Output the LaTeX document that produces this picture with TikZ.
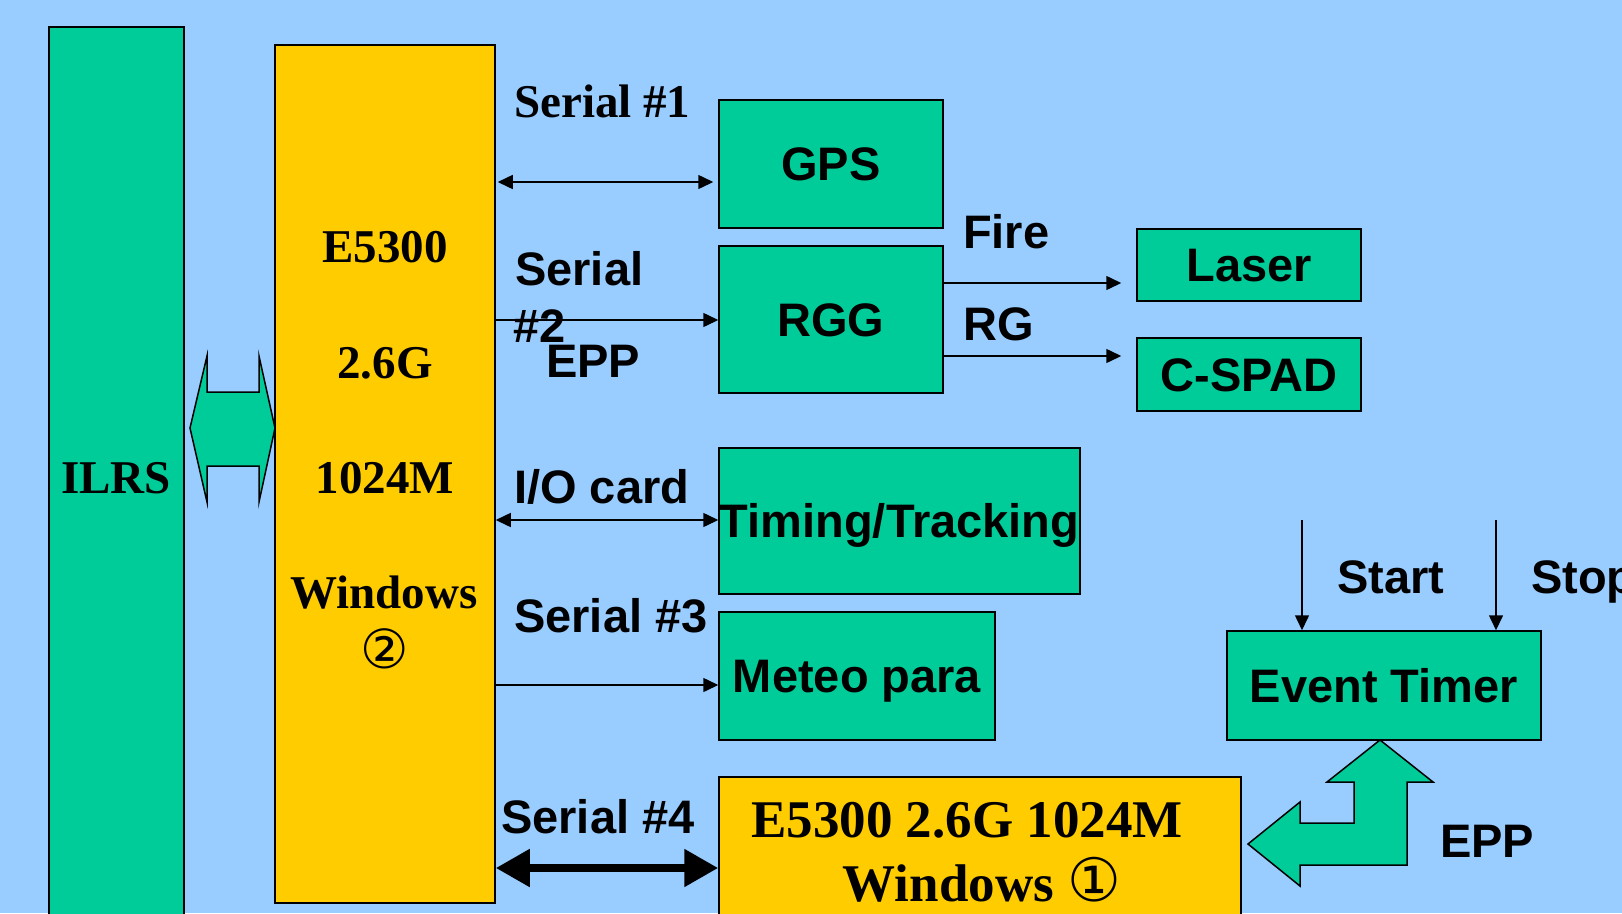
\documentclass[tikz,border=0pt]{standalone}
\usepackage{fontspec}
\setmainfont{Liberation Serif}
\newfontfamily\sansf{Liberation Sans}
\newfontfamily\dvf{DejaVu Sans}
\usetikzlibrary{arrows.meta,calc}
\definecolor{bgblue}{HTML}{99CCFF}
\definecolor{boxgreen}{HTML}{00CC99}
\definecolor{boxyellow}{HTML}{FFCC00}
\tikzset{
  seriflbl/.style={font=\fontsize{47}{56}\selectfont\bfseries, inner sep=0pt},
  bigserif/.style={font=\fontsize{53}{60}\selectfont\bfseries, inner sep=0pt},
  sanslbl/.style={font=\fontsize{47}{56}\selectfont\sansf\bfseries, inner sep=0pt},
  gbox/.style={draw=black, line width=1.5pt, fill=boxgreen, inner sep=0pt,
    text height=33.6pt, text depth=0pt, font=\fontsize{47}{56}\selectfont\sansf\bfseries},
  ybox/.style={draw=black, line width=1.5pt, fill=boxyellow, inner sep=0pt},
  thinarr/.style={line width=1.5pt, -{Triangle[length=15pt,width=14pt]}},
  thinboth/.style={line width=1.5pt, {Triangle[length=15pt,width=14pt]}-{Triangle[length=15pt,width=14pt]}},
  thickboth/.style={line width=8pt, {Triangle[length=34pt,width=36pt]}-{Triangle[length=34pt,width=36pt]}},
  blockarrow/.style={draw=black, line width=1.5pt, fill=boxgreen, line join=miter},
}
\begin{document}
\begin{tikzpicture}[x=1pt,y=-1pt]
\useasboundingbox (0,0) rectangle (1622,913);
\clip (0,0) rectangle (1622,913);
\fill[bgblue] (0,0) rectangle (1622,913);

% big boxes
\node[gbox, minimum width=135pt, minimum height=903pt] (ilrs) at (116.5,478.5) {};
\node[seriflbl, anchor=base] (ilrst) at (116,493) {ILRS};
\node[ybox, minimum width=220pt, minimum height=858pt] (pc2) at (385,474) {};
\node[seriflbl, anchor=base] (pc2a) at (385,262) {E5300};
\node[seriflbl, anchor=base] (pc2b) at (385,378) {2.6G};
\node[seriflbl, anchor=base] (pc2c) at (385,493) {1024M};
\node[seriflbl, anchor=base] (pc2d) at (384,608) {Windows};
\node[inner sep=0pt, font=\fontsize{54}{56}\selectfont\dvf] (pc2e) at (385,649) {②};

\node[ybox, minimum width=522pt, minimum height=153pt] (pc1) at (980,853.5) {};
\node[bigserif, anchor=base] (pc1a) at (967,837) {E5300 2.6G 1024M};
\node[bigserif, anchor=base] (pc1b) at (982,901) {Windows {\dvf\mdseries\fontsize{60}{60}\selectfont ①}};

% green boxes
\node[gbox, minimum width=224pt, minimum height=128pt] (gps) at (831,164) {GPS};
\node[gbox, minimum width=224pt, minimum height=147pt] (rgg) at (831,319.5) {RGG};
\node[gbox, minimum width=224pt, minimum height=72pt] (laser) at (1249,265) {Laser};
\node[gbox, minimum width=224pt, minimum height=73pt] (cspad) at (1249,374.5) {C-SPAD};
\node[gbox, minimum width=361pt, minimum height=146pt] (timing) at (899.5,521) {Timing/Tracking};
\node[gbox, minimum width=276pt, minimum height=128pt] (meteo) at (857,676) {Meteo para};
\node[gbox, minimum width=314pt, minimum height=109pt] (et) at (1384,685.5) {Event Timer};

% labels
\node[seriflbl, anchor=base west] (l1) at (514,117) {Serial \#1};
\node[sanslbl, anchor=base west] (l2a) at (515,285) {Serial};
\node[sanslbl, anchor=base west] (l2b) at (513,342) {\#2};
\node[sanslbl, anchor=base west] (l2c) at (546,377) {EPP};
\node[sanslbl, anchor=base west] (lfire) at (963,248) {Fire};
\node[sanslbl, anchor=base west] (lrg) at (963,340) {RG};
\node[sanslbl, anchor=base west] (lio) at (514,503) {I/O card};
\node[sanslbl, anchor=base west] (l3) at (514,632) {Serial \#3};
\node[sanslbl, anchor=base west] (l4) at (501,833) {Serial \#4};
\node[sanslbl, anchor=base west] (lstart) at (1337,593) {Start};
\node[sanslbl, anchor=base west] (lstop) at (1531,593) {Stop};
\node[sanslbl, anchor=base west] (lepp) at (1440,857) {EPP};

% connector rows
\coordinate (y1) at (0,182);
\coordinate (y2) at (0,320);
\coordinate (yf) at (0,283);
\coordinate (yr) at (0,356);
\coordinate (yio) at (0,520);
\coordinate (ym) at (0,685);
\coordinate (y4) at (0,868);
\coordinate (sa) at (1302,520);
\coordinate (so) at (1496,520);

\draw[thinboth, shorten >=5pt, shorten <=2pt] (pc2.east |- y1) -- (gps.west |- y1);
\draw[thinarr] (pc2.east |- y2) -- (rgg.west |- y2);
\draw[thinarr, shorten >=15pt] (rgg.east |- yf) -- (laser.west |- yf);
\draw[thinarr, shorten >=15pt] (rgg.east |- yr) -- (cspad.west |- yr);
\draw[thinboth] (pc2.east |- yio) -- (timing.west |- yio);
\draw[thinarr] (pc2.east |- ym) -- (meteo.west |- ym);
\draw[thickboth] (pc2.east |- y4) -- (pc1.west |- y4);
\draw[thinarr] (sa) -- (sa |- et.north);
\draw[thinarr] (so) -- (so |- et.north);

% block arrows
\draw[blockarrow] (190,428) -- (207,356) -- (207,392) -- (259,392) -- (259,356)
  -- (275,428) -- (259,502) -- (259,466) -- (207,466) -- (207,502) -- cycle;
\draw[blockarrow] (1380,740) -- (1433,782) -- (1407,782) -- (1407,865) -- (1300,865)
  -- (1300,886) -- (1248,844) -- (1300,802) -- (1300,823) -- (1354,823)
  -- (1354,782) -- (1327,782) -- cycle;
\end{tikzpicture}
\end{document}
